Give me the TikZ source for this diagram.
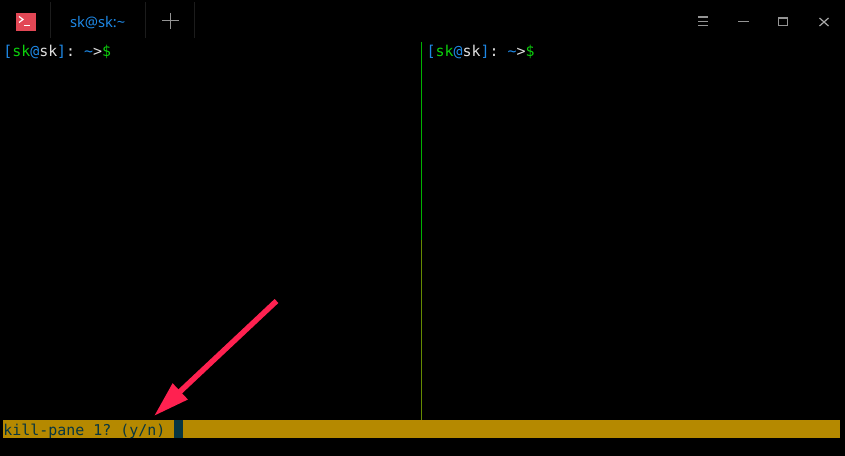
\documentclass[tikz,border=0pt]{standalone}
\usepackage{fontspec}
\setmonofont{DejaVu Sans Mono}
\setsansfont{Noto Sans}
\usetikzlibrary{arrows.meta}
\definecolor{solblue}{HTML}{1E88E5}
\definecolor{solgreen}{HTML}{0CD00C}
\definecolor{solwhite}{HTML}{E0E0E0}
\definecolor{solyellow}{HTML}{B58900}
\definecolor{soldark}{HTML}{073642}
\definecolor{arrowred}{HTML}{FF2150}
\definecolor{iconred}{HTML}{E24755}
\definecolor{sepgray}{HTML}{1C1C1C}
\definecolor{btngray}{HTML}{949494}
\newcommand{\promptline}{{\color{solblue}[}{\color{solgreen}sk}{\color{solblue}@}{\color{solwhite}sk}{\color{solblue}]}{\color{solwhite}:} {\color{solblue}\textasciitilde}{\color{solwhite}>}{\color{solgreen}\$}}
\tikzset{
  txt/.style={inner sep=0pt,outer sep=0pt,anchor=base west},
  term/.style={txt,font=\ttfamily\fontsize{11.2pt}{13pt}\selectfont},
  sepline/.style={draw=sepgray,line width=0.75pt},
  btn/.style={draw=btngray,line width=0.9pt},
  redarrow/.style={draw=arrowred,line width=4.1pt,-{Triangle[length=27pt,width=15.5pt,fill=arrowred]}}
}
\begin{document}
\begin{tikzpicture}[x=0.75pt,y=-0.75pt]
\useasboundingbox (0,0) rectangle (845,456);
\fill[black] (0,0) rectangle (845,456);
% title bar
\fill[iconred] (16,13) rectangle (36,31);
\draw[white,line width=0.9pt] (19,16.5) -- (23,19.5) -- (19,22.5);
\draw[white,line width=0.9pt] (24,25.5) -- (29.5,25.5);
\draw[sepline] (50.5,2) -- (50.5,38);
\draw[sepline] (145.5,2) -- (145.5,38);
\draw[sepline] (194.5,2) -- (194.5,38);
\node[txt,font=\sffamily\fontsize{11pt}{13pt}\selectfont,text=solblue] (tab) at (70,27.3) {sk@sk:\textasciitilde};
\draw[draw=btngray,line width=0.75pt] (162,21) -- (178.5,21) (170.3,13) -- (170.3,29);
% window buttons
\draw[btn] (698,17) -- (708,17) (698,21.2) -- (708,21.2) (698,25.3) -- (708,25.3);
\draw[btn] (738,21.3) -- (749,21.3);
\draw[btn] (778.5,18) rectangle (787.8,25.2);
\draw[draw=btngray!80,line width=0.9pt] (819.5,18) -- (828.5,26) (828.5,18) -- (819.5,26);
% prompts
\node[term] (promptL) at (3.3,56.5) {\promptline};
\node[term] (promptR) at (426.7,56.5) {\promptline};
% pane divider
\draw[draw=green!70!black,line width=0.75pt] (421.5,42) -- (421.5,240);
\draw[draw=solyellow!70!green!80!black,line width=0.75pt] (421.5,240) -- (421.5,420);
% status bar
\fill[solyellow] (3,420) rectangle (840,438);
\fill[soldark] (174,420) rectangle (183,438);
\node[term,text=soldark] (status) at (3.5,435) {kill-pane 1? (y/n)};
% arrow
\coordinate (arrowTail) at (276.5,301);
\coordinate (arrowTip) at (154,416);
\draw[redarrow] (arrowTail) -- (arrowTip);
\end{tikzpicture}
\end{document}
